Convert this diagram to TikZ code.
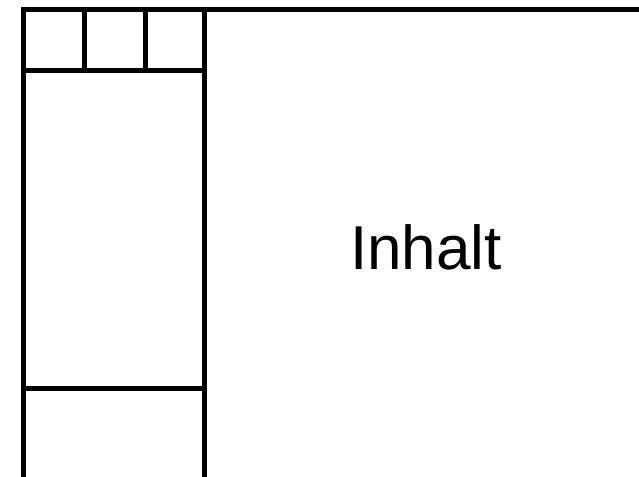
\documentclass[tikz,border=0pt]{standalone}
\usepackage{fontspec}
\setmainfont{Liberation Sans}
\begin{document}
\begin{tikzpicture}[x=1pt,y=-1pt,line width=5pt,
  frame/.style={draw=black,line cap=rect},
  label/.style={font=\fontsize{62}{68}\selectfont,anchor=base,inner sep=0pt}]
\useasboundingbox (0,0) rectangle (639,476);
% outer frame (right and bottom run off the picture)
\draw[frame] (23.5,490) -- (23.5,10) -- (660,10);
% sidebar right edge
\draw[frame] (204.5,10) -- (204.5,490);
% header row
\draw[frame] (23.5,70.5) -- (204.5,70.5);
\draw[frame] (84,10) -- (84,70.5);
\draw[frame] (145,10) -- (145,70.5);
% footer line
\draw[frame] (23.5,388) -- (204.5,388);
\node[label] (inhalt) at (426,269) {Inhalt};
\end{tikzpicture}
\end{document}
